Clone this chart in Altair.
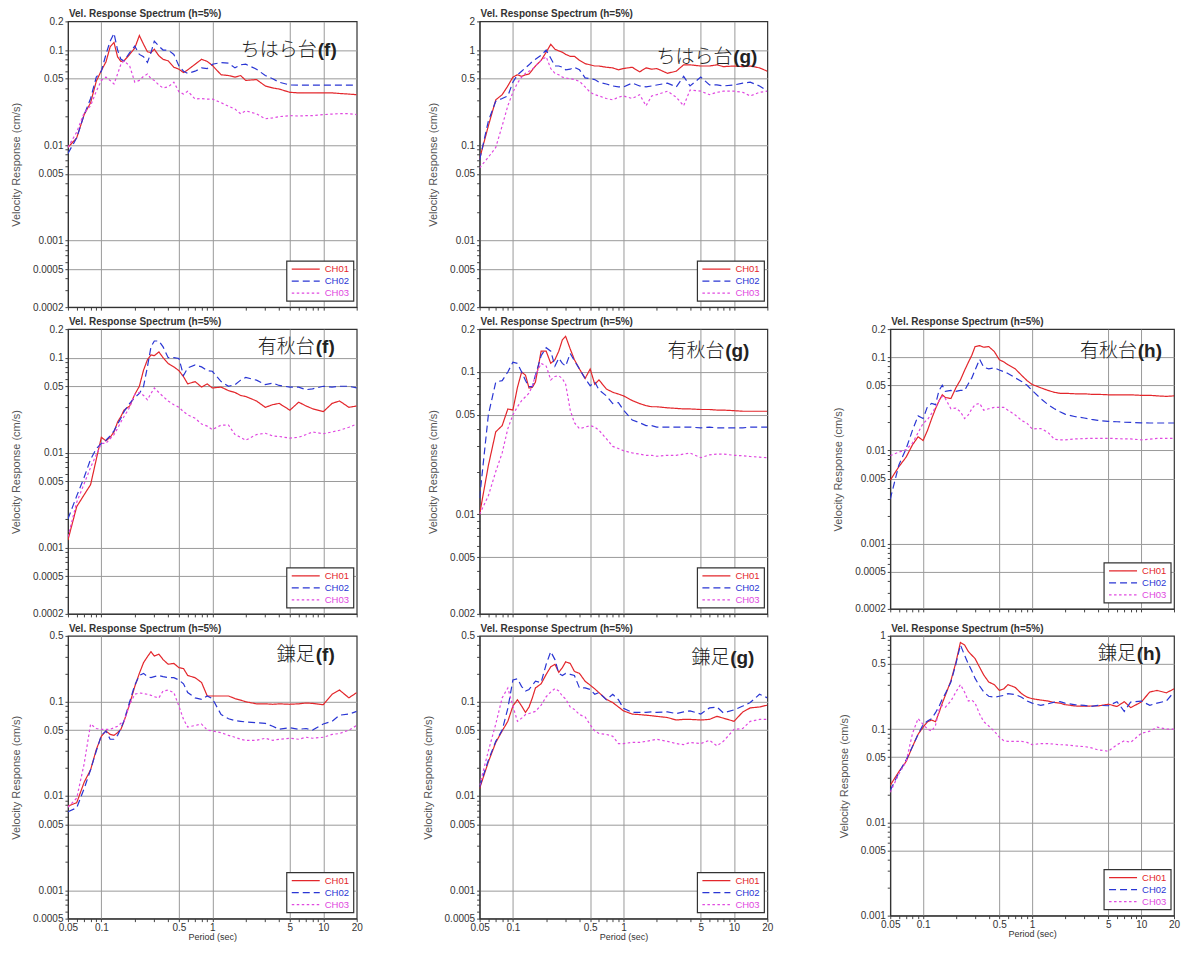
import altair as alt
import pandas as pd

# ---------------- data ----------------
PERIOD = [0.05, 0.06, 0.07, 0.08, 0.09, 0.1, 0.11, 0.12, 0.13, 0.14, 0.15, 0.16,
          0.18, 0.2, 0.22, 0.24, 0.26, 0.28, 0.3, 0.33, 0.36, 0.4, 0.45, 0.5,
          0.55, 0.6, 0.7, 0.8, 0.9, 1.0, 1.2, 1.4, 1.6, 1.8, 2.0, 2.5, 3.0, 3.5,
          4.0, 5.0, 6.0, 7.0, 8.0, 10.0, 12.0, 14.0, 17.0, 20.0]

CHIHARA_F_CH01 = [0.0095, 0.012, 0.021, 0.028, 0.047,
                  0.061, 0.075, 0.108, 0.12, 0.085, 0.076, 0.077, 0.09, 0.105,
                  0.142, 0.115, 0.096, 0.094, 0.102, 0.087, 0.08, 0.077, 0.066, 0.063,
                  0.058, 0.062, 0.071, 0.08, 0.076, 0.069,
                  0.055, 0.054, 0.052, 0.054, 0.048, 0.049, 0.042, 0.04, 0.039, 0.036,
                  0.0355, 0.0355, 0.0355, 0.0355, 0.0355, 0.035, 0.0345, 0.034]
CHIHARA_F_CH02 = [0.0082, 0.012, 0.021, 0.031, 0.052,
                  0.06, 0.09, 0.124, 0.15, 0.1, 0.08, 0.077, 0.094, 0.11,
                  0.09, 0.085, 0.074, 0.094, 0.124, 0.11, 0.1, 0.1, 0.09, 0.068,
                  0.06, 0.057, 0.06, 0.065, 0.064, 0.071,
                  0.074, 0.073, 0.065, 0.07, 0.071, 0.063, 0.054, 0.05, 0.046, 0.043,
                  0.0428, 0.0428, 0.0428, 0.0428, 0.0428, 0.0428, 0.0428, 0.043]
CHIHARA_F_CH03 = [0.0095, 0.0138, 0.022, 0.026, 0.037,
                  0.048, 0.052, 0.048, 0.044, 0.056, 0.071, 0.077, 0.068, 0.046,
                  0.048, 0.053, 0.056, 0.05, 0.048, 0.043, 0.04, 0.041, 0.046, 0.0365,
                  0.0345, 0.037, 0.0306, 0.031, 0.0306, 0.0306,
                  0.028, 0.0257, 0.024, 0.0214, 0.023, 0.0214, 0.019, 0.0194, 0.02, 0.0205,
                  0.0203, 0.0205, 0.0205, 0.021, 0.0213, 0.0215, 0.0215, 0.021]

CHIHARA_G_CH01 = [0.072, 0.16, 0.3, 0.34, 0.42,
                  0.52, 0.55, 0.53, 0.55, 0.56, 0.62, 0.68, 0.78, 0.95,
                  1.15, 1.02, 0.98, 0.95, 0.9, 0.86, 0.86, 0.78, 0.72, 0.7,
                  0.68, 0.68, 0.66, 0.65, 0.62, 0.64,
                  0.66, 0.59, 0.65, 0.63, 0.64, 0.57, 0.6, 0.7, 0.7, 0.68,
                  0.68, 0.7, 0.67, 0.68, 0.67, 0.68, 0.65, 0.6]
CHIHARA_G_CH02 = [0.07, 0.18, 0.29, 0.31, 0.33,
                  0.46, 0.55, 0.6, 0.65, 0.7, 0.76, 0.8, 0.88, 1.0,
                  0.82, 0.68, 0.68, 0.66, 0.62, 0.63, 0.66, 0.62, 0.51, 0.5,
                  0.49, 0.46, 0.44, 0.42, 0.41, 0.41,
                  0.45, 0.42, 0.41, 0.42, 0.43, 0.45, 0.41, 0.53, 0.42, 0.52,
                  0.43, 0.43, 0.42, 0.43, 0.45, 0.46, 0.42, 0.37]
CHIHARA_G_CH03 = [0.058, 0.075, 0.095, 0.16, 0.26,
                  0.36, 0.45, 0.52, 0.57, 0.6, 0.63, 0.68, 0.78, 0.85,
                  0.64, 0.57, 0.55, 0.52, 0.51, 0.5, 0.49, 0.47, 0.41, 0.36,
                  0.34, 0.33, 0.31, 0.3, 0.32, 0.33,
                  0.31, 0.34, 0.26, 0.33, 0.34, 0.37, 0.32, 0.26, 0.38, 0.37,
                  0.34, 0.36, 0.37, 0.37, 0.36, 0.33, 0.36, 0.37]

ARIAKI_F_CH01 = [0.0012, 0.0027, 0.0036, 0.0046, 0.0085,
                 0.0145, 0.0133, 0.0145, 0.0165, 0.021, 0.024, 0.028, 0.031, 0.041,
                 0.05, 0.074, 0.095, 0.107, 0.105, 0.115, 0.1, 0.087, 0.08, 0.073,
                 0.063, 0.053, 0.056, 0.049, 0.053, 0.048,
                 0.049, 0.045, 0.043, 0.04, 0.039, 0.035, 0.03, 0.032, 0.033, 0.028,
                 0.034, 0.031, 0.029, 0.027, 0.033, 0.035, 0.03, 0.031]
ARIAKI_F_CH02 = [0.002, 0.0035, 0.0055, 0.0085, 0.011,
                 0.0125, 0.0135, 0.015, 0.017, 0.02, 0.023, 0.027, 0.033, 0.038,
                 0.042, 0.05, 0.08, 0.13, 0.15, 0.15, 0.13, 0.1, 0.1, 0.098,
                 0.065, 0.078, 0.084, 0.08, 0.073, 0.072,
                 0.056, 0.05, 0.052, 0.058, 0.062, 0.058, 0.052, 0.054, 0.051, 0.049,
                 0.049, 0.046, 0.047, 0.05, 0.049, 0.05, 0.05, 0.048]
ARIAKI_F_CH03 = [0.0013, 0.003, 0.0047, 0.007, 0.0095,
                 0.0125, 0.0125, 0.014, 0.0155, 0.018, 0.021, 0.024, 0.03, 0.041,
                 0.043, 0.04, 0.036, 0.042, 0.048, 0.043, 0.039, 0.035, 0.032, 0.03,
                 0.027, 0.025, 0.023, 0.02, 0.019, 0.0175,
                 0.0195, 0.0195, 0.0155, 0.0145, 0.0135, 0.0155, 0.016, 0.015, 0.0148, 0.0142,
                 0.0145, 0.0155, 0.0165, 0.0158, 0.0165, 0.0172, 0.0185, 0.02]

ARIAKI_G_CH01 = [0.01, 0.022, 0.038, 0.042, 0.055,
                 0.054, 0.078, 0.1, 0.095, 0.077, 0.078, 0.085, 0.14, 0.14,
                 0.115, 0.122, 0.14, 0.168, 0.178, 0.145, 0.122, 0.105, 0.09, 0.105,
                 0.082, 0.088, 0.076, 0.072, 0.07, 0.068,
                 0.063, 0.06, 0.058, 0.057, 0.057, 0.056, 0.0555, 0.055, 0.055, 0.0545,
                 0.0545, 0.054, 0.054, 0.0535, 0.053, 0.053, 0.053, 0.053]
ARIAKI_G_CH02 = [0.013, 0.05, 0.085, 0.087, 0.1,
                 0.117, 0.115, 0.1, 0.087, 0.079, 0.079, 0.095, 0.13, 0.148,
                 0.14, 0.11, 0.125, 0.115, 0.11, 0.135, 0.12, 0.105, 0.09, 0.08,
                 0.085, 0.075, 0.068, 0.06, 0.061, 0.054,
                 0.046, 0.044, 0.042, 0.042, 0.041, 0.041, 0.041, 0.041, 0.041, 0.0405,
                 0.041, 0.0405, 0.0405, 0.0405, 0.0405, 0.041, 0.041, 0.041]
ARIAKI_G_CH03 = [0.01, 0.0135, 0.02, 0.027, 0.04,
                 0.05, 0.057, 0.063, 0.067, 0.071, 0.08, 0.095, 0.115, 0.11,
                 0.088, 0.093, 0.094, 0.09, 0.082, 0.054, 0.044, 0.04, 0.041, 0.042,
                 0.041, 0.039, 0.034, 0.03, 0.029, 0.028,
                 0.027, 0.0265, 0.026, 0.026, 0.0256, 0.026, 0.026, 0.0265, 0.027, 0.025,
                 0.0262, 0.0265, 0.0265, 0.026, 0.0258, 0.0255, 0.0252, 0.025]

ARIAKI_H_CH01 = [0.0048, 0.0067, 0.0085, 0.0115, 0.014,
                 0.0128, 0.0165, 0.022, 0.028, 0.034, 0.0395, 0.037, 0.036, 0.047,
                 0.057, 0.072, 0.088, 0.105, 0.13, 0.133, 0.128, 0.13, 0.115, 0.094,
                 0.089, 0.083, 0.075, 0.064, 0.056, 0.051,
                 0.047, 0.044, 0.042, 0.041, 0.041, 0.0405, 0.0405, 0.04, 0.04, 0.0395,
                 0.0395, 0.0395, 0.0395, 0.039, 0.039, 0.0385, 0.038, 0.0385]
ARIAKI_H_CH02 = [0.003, 0.007, 0.0105, 0.0165, 0.0235,
                 0.022, 0.0297, 0.032, 0.031, 0.044, 0.05, 0.043, 0.044, 0.043,
                 0.044, 0.044, 0.052, 0.06, 0.073, 0.095, 0.078, 0.075, 0.077, 0.073,
                 0.07, 0.067, 0.06, 0.055, 0.05, 0.044,
                 0.036, 0.031, 0.028, 0.026, 0.0245, 0.023, 0.0223, 0.0215, 0.021, 0.0205,
                 0.0203, 0.0201, 0.02, 0.0198, 0.0197, 0.0197, 0.0197, 0.0197]
ARIAKI_H_CH03 = [0.0088, 0.0096, 0.0102, 0.012, 0.0155,
                 0.0195, 0.0215, 0.025, 0.029, 0.034, 0.038, 0.036, 0.028, 0.0285,
                 0.026, 0.022, 0.024, 0.028, 0.031, 0.032, 0.027, 0.028, 0.029, 0.029,
                 0.029, 0.027, 0.024, 0.021, 0.0195, 0.017,
                 0.0172, 0.0156, 0.0132, 0.013, 0.013, 0.0133, 0.0134, 0.0135, 0.0135, 0.0135,
                 0.0134, 0.0133, 0.0133, 0.013, 0.0132, 0.0135, 0.0135, 0.0135]

KAMATARI_F_CH01 = [0.0078, 0.0085, 0.014, 0.019, 0.031,
                   0.043, 0.049, 0.045, 0.044, 0.047, 0.051, 0.062, 0.095, 0.145,
                   0.2, 0.26, 0.3, 0.34, 0.305, 0.32, 0.28, 0.25, 0.255, 0.23,
                   0.225, 0.19, 0.18, 0.16, 0.115, 0.115,
                   0.115, 0.115, 0.108, 0.104, 0.1, 0.095, 0.095, 0.094, 0.095, 0.094,
                   0.095, 0.097, 0.096, 0.093, 0.12, 0.133, 0.11, 0.125]
KAMATARI_F_CH02 = [0.0068, 0.0075, 0.012, 0.019, 0.03,
                   0.044, 0.049, 0.04, 0.04, 0.044, 0.052, 0.063, 0.1, 0.15,
                   0.19, 0.2, 0.185, 0.18, 0.185, 0.19, 0.185, 0.18, 0.18, 0.17,
                   0.155, 0.125, 0.11, 0.106, 0.115, 0.108,
                   0.073, 0.066, 0.063, 0.062, 0.061, 0.06, 0.059, 0.055, 0.051, 0.053,
                   0.051, 0.052, 0.05, 0.058, 0.062, 0.072, 0.074, 0.079]
KAMATARI_F_CH03 = [0.0076, 0.0095, 0.022, 0.058, 0.052,
                   0.051, 0.051, 0.051, 0.053, 0.055, 0.059, 0.062, 0.094, 0.12,
                   0.124, 0.122, 0.12, 0.117, 0.113, 0.11, 0.13, 0.133, 0.125, 0.09,
                   0.065, 0.054, 0.056, 0.058, 0.05, 0.049,
                   0.047, 0.044, 0.042, 0.04, 0.039, 0.039, 0.041, 0.039, 0.04, 0.041,
                   0.04, 0.042, 0.041, 0.042, 0.045, 0.046, 0.05, 0.056]

KAMATARI_G_CH01 = [0.012, 0.023, 0.037, 0.049, 0.062,
                   0.09, 0.105, 0.09, 0.077, 0.088, 0.11, 0.14, 0.155, 0.195,
                   0.235, 0.25, 0.205, 0.23, 0.265, 0.255, 0.21, 0.2, 0.165, 0.15,
                   0.137, 0.125, 0.106, 0.098, 0.088, 0.08,
                   0.074, 0.073, 0.072, 0.071, 0.07, 0.068, 0.064, 0.065, 0.065, 0.064,
                   0.065, 0.07, 0.067, 0.062, 0.078, 0.086, 0.088, 0.092]
KAMATARI_G_CH02 = [0.0125, 0.024, 0.038, 0.05, 0.085,
                   0.17, 0.175, 0.145, 0.13, 0.135, 0.15, 0.165, 0.16, 0.25,
                   0.34, 0.28, 0.2, 0.19, 0.2, 0.195, 0.19, 0.14, 0.14, 0.135,
                   0.12, 0.125, 0.105, 0.12, 0.105, 0.085,
                   0.077, 0.077, 0.077, 0.078, 0.077, 0.078, 0.075, 0.078, 0.08, 0.074,
                   0.086, 0.088, 0.076, 0.082, 0.09, 0.098, 0.12, 0.11]
KAMATARI_G_CH03 = [0.013, 0.03, 0.058, 0.11, 0.14,
                   0.09, 0.062, 0.067, 0.073, 0.075, 0.077, 0.079, 0.092, 0.113,
                   0.127, 0.138, 0.13, 0.115, 0.107, 0.088, 0.083, 0.073, 0.069, 0.057,
                   0.049, 0.046, 0.045, 0.043, 0.036, 0.036,
                   0.037, 0.037, 0.038, 0.039, 0.04, 0.038, 0.036, 0.035, 0.037, 0.036,
                   0.039, 0.034, 0.038, 0.051, 0.052, 0.062, 0.065, 0.065]

KAMATARI_H_CH01 = [0.025, 0.035, 0.045, 0.065, 0.088,
                   0.105, 0.12, 0.125, 0.12, 0.15, 0.19, 0.23, 0.33, 0.52,
                   0.85, 0.8, 0.68, 0.62, 0.57, 0.46, 0.38, 0.32, 0.3, 0.26,
                   0.27, 0.3, 0.28, 0.24, 0.22, 0.212,
                   0.205, 0.2, 0.193, 0.19, 0.183, 0.177, 0.176, 0.177, 0.177, 0.185,
                   0.175, 0.197, 0.17, 0.195, 0.25, 0.26, 0.245, 0.27]
KAMATARI_H_CH02 = [0.022, 0.034, 0.047, 0.065, 0.088,
                   0.112, 0.122, 0.13, 0.15, 0.175, 0.21, 0.24, 0.32, 0.5,
                   0.8, 0.62, 0.5, 0.42, 0.35, 0.29, 0.25, 0.225, 0.22, 0.225,
                   0.23, 0.24, 0.235, 0.22, 0.2, 0.19,
                   0.18, 0.187, 0.195, 0.197, 0.19, 0.182, 0.18, 0.175, 0.18, 0.178,
                   0.197, 0.155, 0.195, 0.2, 0.18, 0.19, 0.2, 0.25]
KAMATARI_H_CH03 = [0.021, 0.033, 0.045, 0.09, 0.13,
                   0.112, 0.1, 0.095, 0.11, 0.16, 0.18, 0.172, 0.2, 0.25,
                   0.3, 0.25, 0.2, 0.205, 0.19, 0.145, 0.12, 0.108, 0.095, 0.082,
                   0.075, 0.074, 0.074, 0.074, 0.072, 0.068,
                   0.07, 0.07, 0.069, 0.068, 0.068, 0.066, 0.065, 0.063, 0.06, 0.058,
                   0.068, 0.075, 0.072, 0.09, 0.095, 0.105, 0.1, 0.1]

CHANNELS = ["CH01", "CH02", "CH03"]
X_LABELS = [0.05, 0.1, 0.5, 1, 5, 10, 20]
X_GRID = [0.1, 0.5, 1, 5, 10]
Y_LAB_A = [0.0002, 0.0005, 0.001, 0.005, 0.01, 0.05, 0.1, 0.2]
Y_LAB_B = [0.002, 0.005, 0.01, 0.05, 0.1, 0.5, 1, 2]
Y_LAB_C = [0.002, 0.005, 0.01, 0.05, 0.1, 0.2]
Y_LAB_D = [0.0005, 0.001, 0.005, 0.01, 0.05, 0.1, 0.5]
Y_LAB_E = [0.001, 0.005, 0.01, 0.05, 0.1, 0.5, 1]

# ---------------- styles ----------------
COLORS = ["#e3262b", "#2a36d4", "#e048e0"]
DASHES = [[1, 0], [7, 4], [2.5, 2.5]]
FONT = "Liberation Sans"
JFONT = "Noto Sans CJK JP"
TAG_W = {"(f)": 19, "(g)": 24, "(h)": 24}


def log_ticks(lo, hi):
    vals = []
    for k in range(-6, 4):
        for m in range(1, 10):
            v = round(m * 10.0 ** k, 10)
            if lo * 0.9999 <= v <= hi * 1.0001:
                vals.append(v)
    return vals


def value_test(vals):
    return " || ".join(f"abs(datum.value - {v!r}) < {v * 1e-3!r}" for v in vals)


def make_panel(name, tag, series, ydomain, ylabels, w, h, bottom, label_dy, label_r):
    for s in series:
        assert len(s) == len(PERIOD)
    df = pd.DataFrame({
        "period": PERIOD * 3,
        "value": series[0] + series[1] + series[2],
        "channel": sum([[c] * len(PERIOD) for c in CHANNELS], []),
    })
    ygrid = [v for v in ylabels if v not in ydomain]
    yaxis = alt.Axis(
        values=log_ticks(*ydomain), format="~g",
        labelExpr=f"({value_test(ylabels)}) ? datum.label : ''",
        gridOpacity={"condition": {"test": value_test(ygrid), "value": 1}, "value": 0},
        gridColor="#9a9a9a", gridWidth=1, labelOverlap=False, labelFlush=False,
        labelFont=FONT, labelFontSize=10, labelColor="#333", labelPadding=2,
        tickSize=3, tickColor="#444", domainColor="#333",
        titleFont=FONT, titleFontSize=11, titleFontWeight="normal",
        titleColor="#555", titlePadding=11,
    )
    xkw = dict(
        values=log_ticks(0.05, 20),
        gridOpacity={"condition": {"test": value_test(X_GRID), "value": 1}, "value": 0},
        gridColor="#9a9a9a", gridWidth=1,
        tickSize=3, tickColor="#444", domainColor="#333",
    )
    if bottom:
        xaxis = alt.Axis(
            format="~g", labelExpr=f"({value_test(X_LABELS)}) ? datum.label : ''",
            labelOverlap=False, labelFlush=False, labelFont=FONT, labelFontSize=10,
            labelColor="#333", labelPadding=1,
            titleFont=FONT, titleFontSize=9, titleFontWeight="normal",
            titleColor="#333", titlePadding=0, **xkw)
        xtitle = "Period (sec)"
    else:
        xaxis = alt.Axis(labels=False, **xkw)
        xtitle = None

    lines = alt.Chart(df).mark_line(strokeWidth=1.2, clip=True).encode(
        x=alt.X("period:Q", title=xtitle, axis=xaxis,
                scale=alt.Scale(type="log", domain=[0.05, 20], nice=False)),
        y=alt.Y("value:Q", title="Velocity Response (cm/s)", axis=yaxis,
                scale=alt.Scale(type="log", domain=ydomain, nice=False)),
        color=alt.Color("channel:N", legend=None,
                        scale=alt.Scale(domain=CHANNELS, range=COLORS)),
        strokeDash=alt.StrokeDash("channel:N", legend=None,
                                  scale=alt.Scale(domain=CHANNELS, range=DASHES)),
    )

    one = pd.DataFrame({"a": [0]})
    layers = [lines]
    layers.append(alt.Chart(one).mark_rect(fill="white", stroke="#333", strokeWidth=1.2).encode(
        x=alt.value(w - 70), x2=alt.value(w - 3), y=alt.value(h - 46), y2=alt.value(h - 6)))
    for i, (ch, col, dash) in enumerate(zip(CHANNELS, COLORS, DASHES)):
        yy = h - 38 + 12 * i
        layers.append(alt.Chart(one).mark_rule(color=col, strokeDash=dash, strokeWidth=1.2).encode(
            x=alt.value(w - 65), x2=alt.value(w - 37), y=alt.value(yy)))
        layers.append(alt.Chart(pd.DataFrame({"t": [ch]})).mark_text(
            align="left", baseline="middle", color=col, font=FONT, fontSize=9.5).encode(
            x=alt.value(w - 32), y=alt.value(yy), text="t:N"))
    layers.append(alt.Chart(pd.DataFrame({"t": [name]})).mark_text(
        align="right", baseline="middle", font=JFONT, fontSize=19, fontWeight=300,
        color="#222").encode(
        x=alt.value(w - label_r - TAG_W[tag] - 1), y=alt.value(label_dy), text="t:N"))
    layers.append(alt.Chart(pd.DataFrame({"t": [tag]})).mark_text(
        align="right", baseline="middle", font=FONT, fontSize=19, fontWeight="bold",
        color="#222").encode(x=alt.value(w - label_r), y=alt.value(label_dy), text="t:N"))

    return alt.layer(*layers).properties(
        width=w, height=h,
        title=alt.TitleParams("Vel. Response Spectrum (h=5%)", anchor="start", frame="group",
                              font=FONT, fontSize=10, fontWeight="bold", color="#333",
                              offset=-3, dx=1),
    )


W1, W2, W3 = 289, 288, 284
H1, H2, H3 = 286, 285, 283

p1 = make_panel("ちはら台", "(f)", [CHIHARA_F_CH01, CHIHARA_F_CH02, CHIHARA_F_CH03],
                [0.0002, 0.2], Y_LAB_A, W1, H1, False, 29, 20)
p2 = make_panel("ちはら台", "(g)", [CHIHARA_G_CH01, CHIHARA_G_CH02, CHIHARA_G_CH03],
                [0.002, 2], Y_LAB_B, W2, H1, False, 36, 10)
p3 = make_panel("有秋台", "(f)", [ARIAKI_F_CH01, ARIAKI_F_CH02, ARIAKI_F_CH03],
                [0.0002, 0.2], Y_LAB_A, W1, H2, False, 18, 22)
p4 = make_panel("有秋台", "(g)", [ARIAKI_G_CH01, ARIAKI_G_CH02, ARIAKI_G_CH03],
                [0.002, 0.2], Y_LAB_C, W2, H2, False, 22, 18)
p5 = make_panel("有秋台", "(h)", [ARIAKI_H_CH01, ARIAKI_H_CH02, ARIAKI_H_CH03],
                [0.0002, 0.2], Y_LAB_A, W3, 280, False, 22, 12)
p6 = make_panel("鎌足", "(f)", [KAMATARI_F_CH01, KAMATARI_F_CH02, KAMATARI_F_CH03],
                [0.0005, 0.5], Y_LAB_D, W1, H3, True, 19, 22)
p7 = make_panel("鎌足", "(g)", [KAMATARI_G_CH01, KAMATARI_G_CH02, KAMATARI_G_CH03],
                [0.0005, 0.5], Y_LAB_D, W2, H3, True, 22, 13)
p8 = make_panel("鎌足", "(h)", [KAMATARI_H_CH01, KAMATARI_H_CH02, KAMATARI_H_CH03],
                [0.001, 1], Y_LAB_E, W3, 280, True, 18, 13)

placeholder = alt.Chart(pd.DataFrame({"v": [1]})).mark_point(opacity=0).encode(
    x=alt.X("v:Q", axis=None), y=alt.Y("v:Q", axis=None)
).properties(width=W3, height=280, view=alt.ViewBackground(stroke="transparent"))

chart = alt.concat(
    p1, p2, placeholder, p3, p4, p5, p6, p7, p8,
    columns=3, spacing={"row": 22, "column": 123}, bounds="flush",
).properties(
    padding={"left": 1, "top": 0, "right": 0, "bottom": 0},
    background="white",
).configure_view(stroke="#333", strokeWidth=1.2)

chart.save("out.html", embed_options={"renderer": "svg", "actions": False})
